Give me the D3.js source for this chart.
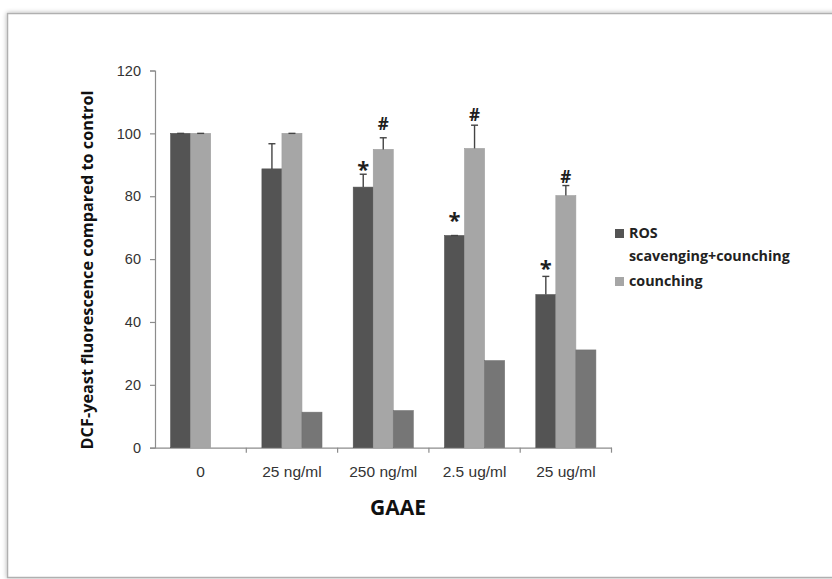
<!DOCTYPE html>
<html>
<head>
<meta charset="utf-8">
<script src="https://cdn.jsdelivr.net/npm/d3@7"></script>
<style>
  body { margin: 0; background: #fff; }
  svg { display: block; font-family: 'Open Sans', sans-serif; }
</style>
</head>
<body>
<svg id="chart"></svg>
<script>
// data
const categories = ['0', '25 ng/ml', '250 ng/ml', '2.5 ug/ml', '25 ug/ml'];
const seriesNames = ['ROS scavenging+counching', 'counching', 'third'];
const rosValues = [100, 88.7, 82.9, 67.5, 48.7];
const rosErrors = [0, 8.0, 4.1, 0, 5.8];
const counchingValues = [100, 100, 94.9, 95.2, 80.2];
const counchingErrors = [0, 0, 3.7, 7.4, 3.2];
const thirdValues = [null, 11.3, 11.8, 27.7, 31.1];
const rosMarks = ['', '', '*', '*', '*'];
const rosMarkLevel = [null, null, 91.5, 75.1, 60.0];
const counchingMarks = ['', '', '#', '#', '#'];
const counchingMarkLevel = [null, null, 103.0, 105.9, 86.4];
const yTicks = [0, 20, 40, 60, 80, 100, 120];

const width = 832;
const height = 579;
const colors = ['#545454', '#a6a6a6', '#767676'];

const svg = d3.select('#chart')
  .attr('width', width)
  .attr('height', height);

// frame with soft shadow
const defs = svg.append('defs');
const f = defs.append('filter').attr('id', 'shadow')
  .attr('x', '-5%').attr('y', '-5%').attr('width', '110%').attr('height', '110%');
f.append('feGaussianBlur').attr('in', 'SourceAlpha').attr('stdDeviation', 2.5);
f.append('feOffset').attr('dx', 0).attr('dy', 0).attr('result', 'b');
f.append('feComponentTransfer').append('feFuncA').attr('type', 'linear').attr('slope', 0.3);
const merge = f.append('feMerge');
merge.append('feMergeNode');
merge.append('feMergeNode').attr('in', 'SourceGraphic');

svg.append('rect')
  .attr('x', 7.5).attr('y', 13.5)
  .attr('width', 840).attr('height', 564)
  .attr('fill', '#fff')
  .attr('stroke', '#b0b0b0')
  .attr('stroke-width', 1.5)
  .attr('filter', 'url(#shadow)');

const plotLeft = 155;
const plotRight = 611.5;
const plotTop = 70.5;
const plotBottom = 447.7;

const x0 = d3.scaleBand()
  .domain(categories)
  .range([plotLeft, plotRight]);

const x1 = d3.scaleBand()
  .domain(d3.range(3))
  .range([0, x0.bandwidth()])
  .paddingInner(0)
  .paddingOuter(0.78);

const y = d3.scaleLinear()
  .domain([0, 120])
  .range([plotBottom, plotTop]);

// y axis
const yAxis = d3.axisLeft(y)
  .tickValues(yTicks)
  .tickSize(5)
  .tickPadding(9);

const gy = svg.append('g')
  .attr('transform', `translate(${plotLeft}, 0)`)
  .call(yAxis);
gy.select('.domain').attr('stroke', '#8c8c8c').attr('stroke-width', 1.2);
gy.selectAll('.tick line').attr('stroke', '#8c8c8c').attr('stroke-width', 1.2);
gy.selectAll('.tick text')
  .attr('font-size', 14.5)
  .attr('fill', '#333');

// x axis
const xAxis = d3.axisBottom(x0)
  .tickSize(0)
  .tickPadding(18);

const gx = svg.append('g')
  .attr('transform', `translate(0, ${plotBottom})`)
  .call(xAxis);
gx.select('.domain').attr('stroke', '#8c8c8c').attr('stroke-width', 1.2);
gx.selectAll('.tick text')
  .attr('font-size', 15.5)
  .attr('fill', '#333');

// boundary ticks between categories
const boundaries = categories.map(c => x0(c)).concat([plotRight]);
gx.selectAll('.bound')
  .data(boundaries.slice(1))
  .enter()
  .append('line')
  .attr('x1', d => d)
  .attr('x2', d => d)
  .attr('y1', 0)
  .attr('y2', 5)
  .attr('stroke', '#8c8c8c')
  .attr('stroke-width', 1.2);

// bars
const seriesData = [
  { values: rosValues, errors: rosErrors, marks: rosMarks, levels: rosMarkLevel },
  { values: counchingValues, errors: counchingErrors, marks: counchingMarks, levels: counchingMarkLevel },
  { values: thirdValues, errors: null, marks: null, levels: null }
];

seriesData.forEach((s, si) => {
  const rows = categories.map((c, i) => ({ c, i, v: s.values[i] })).filter(d => d.v != null);

  svg.append('g')
    .selectAll('rect')
    .data(rows)
    .enter()
    .append('rect')
    .attr('x', d => x0(d.c) + x1(si))
    .attr('y', d => y(d.v))
    .attr('width', x1.bandwidth())
    .attr('height', d => y(0) - y(d.v))
    .attr('fill', colors[si])
    .attr('stroke', d3.color(colors[si]).darker(0.15))
    .attr('stroke-width', 0.6);

  if (s.errors) {
    const eg = svg.append('g').attr('stroke', '#444').attr('stroke-width', 1.4);
    rows.forEach(d => {
      const cx = x0(d.c) + x1(si) + x1.bandwidth() / 2;
      const e = s.errors[d.i];
      eg.append('line')
        .attr('x1', cx).attr('x2', cx)
        .attr('y1', y(d.v)).attr('y2', y(d.v + e));
      eg.append('line')
        .attr('x1', cx - 3.5).attr('x2', cx + 3.5)
        .attr('y1', y(d.v + e)).attr('y2', y(d.v + e));
    });
  }

  if (s.marks) {
    svg.append('g')
      .selectAll('text')
      .data(rows.filter(d => s.marks[d.i]))
      .enter()
      .append('text')
      .attr('x', d => x0(d.c) + x1(si) + x1.bandwidth() / 2)
      .attr('y', d => y(s.levels[d.i]))
      .attr('dy', s.marks[2] === '*' ? '0.75em' : '0.38em')
      .attr('text-anchor', 'middle')
      .attr('font-size', s.marks[2] === '*' ? 22 : 17)
      .attr('font-weight', 'bold')
      .attr('fill', '#1e1e1e')
      .text(d => s.marks[d.i]);
  }
});

// axis titles
svg.append('text')
  .attr('transform', 'translate(93, 270) rotate(-90)')
  .attr('text-anchor', 'middle')
  .attr('font-size', 16.3)
  .attr('font-weight', 'bold')
  .attr('fill', '#111')
  .text('DCF-yeast fluorescence compared to control');

svg.append('text')
  .attr('x', 398)
  .attr('y', 515)
  .attr('text-anchor', 'middle')
  .attr('font-size', 21)
  .attr('font-weight', 'bold')
  .attr('fill', '#111')
  .text('GAAE');

// legend
const legend = svg.append('g').attr('transform', 'translate(615, 229)');
const legendRows = [
  { lines: ['ROS', 'scavenging+counching'], color: colors[0], dy: 0 },
  { lines: ['counching'], color: colors[1], dy: 48 }
];
legendRows.forEach(r => {
  legend.append('rect')
    .attr('x', 0).attr('y', r.dy)
    .attr('width', 9).attr('height', 9)
    .attr('fill', r.color);
  r.lines.forEach((t, k) => {
    legend.append('text')
      .attr('x', 14)
      .attr('y', r.dy + 9 + k * 23)
      .attr('font-size', 14.3)
      .attr('font-weight', 'bold')
      .attr('fill', '#222')
      .text(t);
  });
});
</script>
</body>
</html>
